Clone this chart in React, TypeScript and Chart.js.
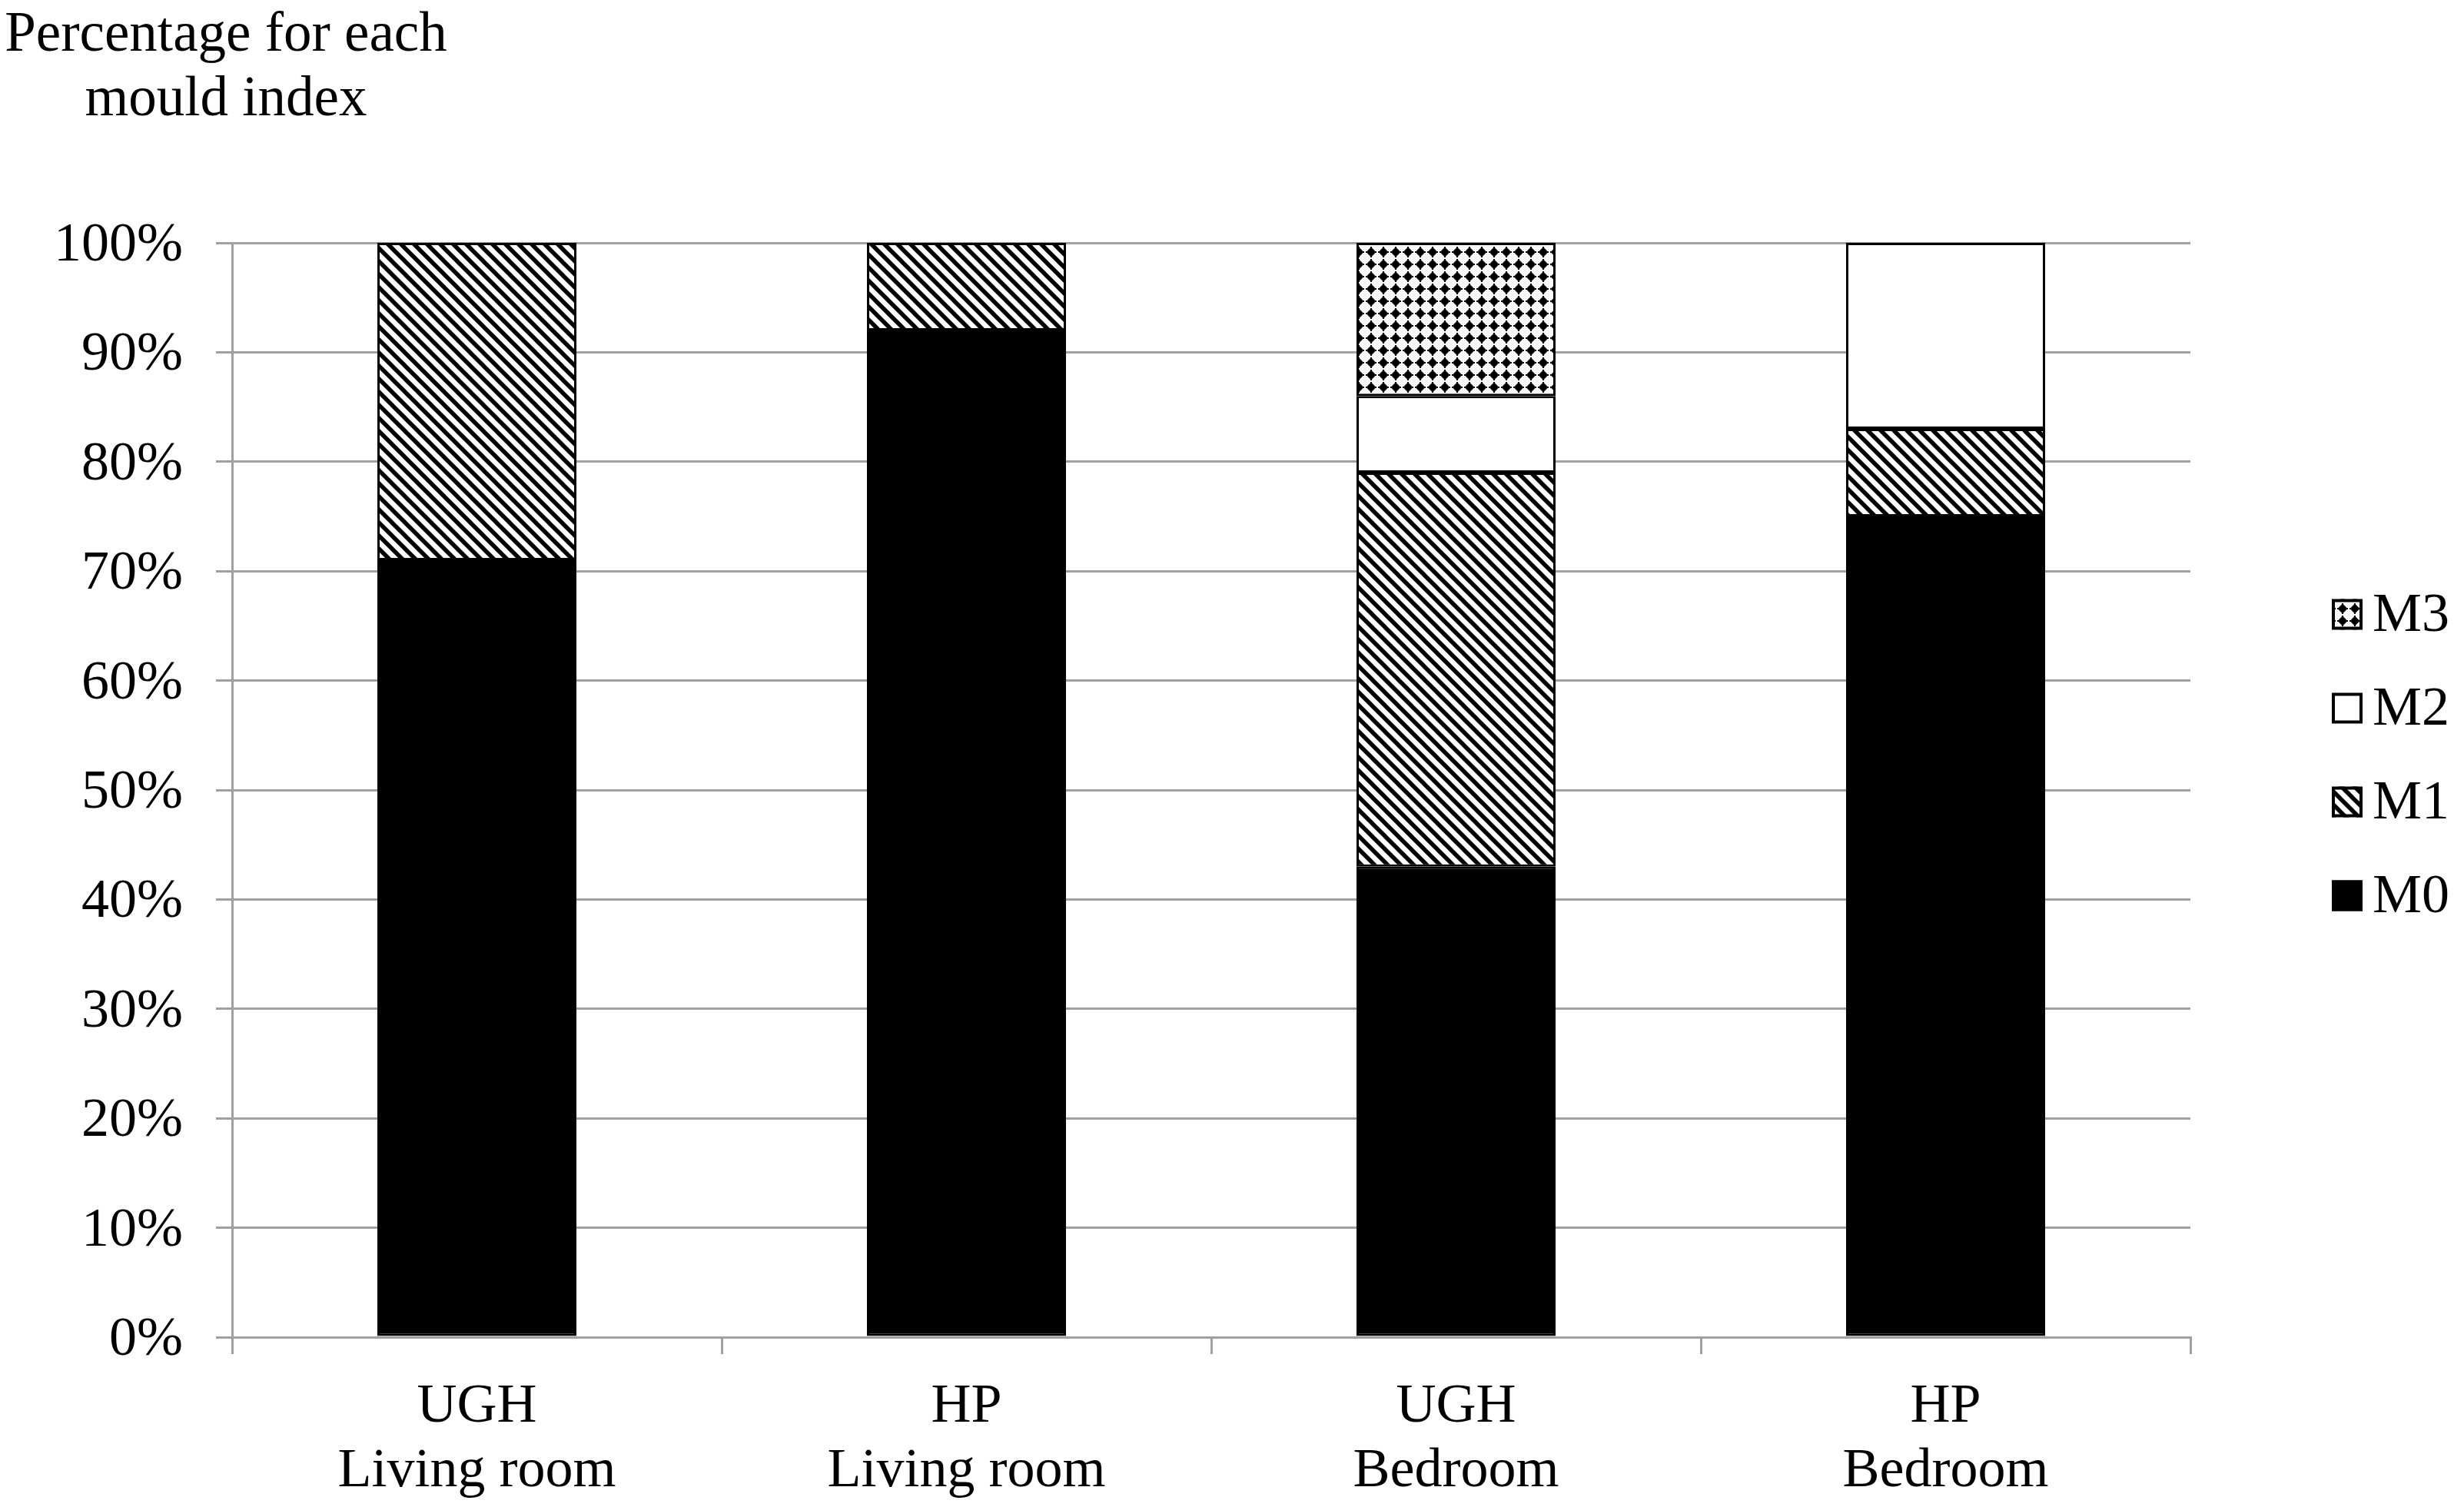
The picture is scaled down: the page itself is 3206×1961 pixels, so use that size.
import React, { useEffect, useRef } from "react";
import { Chart, registerables } from "chart.js";

Chart.register(...registerables);

const categories: string[][] = [
  ["UGH", "Living room"],
  ["HP", "Living room"],
  ["UGH", "Bedroom"],
  ["HP", "Bedroom"],
];
const seriesNames = ["M0", "M1", "M2", "M3"];
const m0Values = [71, 92, 43, 75];
const m1Values = [29, 8, 36, 8];
const m2Values = [0, 0, 7, 17];
const m3Values = [0, 0, 14, 0];
const yTickValues = [0, 10, 20, 30, 40, 50, 60, 70, 80, 90, 100];
const titleLines = ["Percentage for each", "mould index"];

const FONT = '"Liberation Serif", "Times New Roman", serif';
const GRID = "#a0a0a0";

function makeHatch(): CanvasPattern | string {
  const t = document.createElement("canvas");
  const s = 17;
  t.width = s;
  t.height = s;
  const c = t.getContext("2d");
  if (!c) return "#888";
  c.fillStyle = "#fff";
  c.fillRect(0, 0, s, s);
  c.strokeStyle = "#000";
  c.lineWidth = 5.5;
  c.beginPath();
  for (const k of [-s, 0, s]) {
    c.moveTo(k - 2, -2);
    c.lineTo(k + s + 2, s + 2);
  }
  c.stroke();
  const main = document.createElement("canvas").getContext("2d");
  return (main as CanvasRenderingContext2D).createPattern(t, "repeat") as CanvasPattern;
}

function makeDiamonds(): CanvasPattern | string {
  const t = document.createElement("canvas");
  const s = 16;
  t.width = s;
  t.height = s;
  const c = t.getContext("2d");
  if (!c) return "#888";
  c.fillStyle = "#fff";
  c.fillRect(0, 0, s, s);
  c.fillStyle = "#000";
  const cx = s / 2;
  const cy = s / 2;
  const r = 6.5;
  c.beginPath();
  c.moveTo(cx, cy - r);
  c.lineTo(cx + r, cy);
  c.lineTo(cx, cy + r);
  c.lineTo(cx - r, cy);
  c.closePath();
  c.fill();
  c.fillRect(cx - 1, cy - 7, 2, 14);
  c.fillRect(cx - 7, cy - 1, 14, 2);
  const main = document.createElement("canvas").getContext("2d");
  return (main as CanvasRenderingContext2D).createPattern(t, "repeat") as CanvasPattern;
}

const titlePlugin = {
  id: "sideTitle",
  afterDraw(chart: any) {
    const { ctx, chartArea } = chart;
    ctx.save();
    ctx.font = `73px ${FONT}`;
    ctx.fillStyle = "#000";
    ctx.textAlign = "center";
    ctx.textBaseline = "alphabetic";
    const cx = chartArea.left - 8;
    titleLines.forEach((line, i) => {
      ctx.fillText(line, cx, 66 + i * 84);
    });
    ctx.restore();
  },
};

const legendPlugin = {
  id: "sideLegend",
  afterDraw(chart: any) {
    const { ctx, chartArea } = chart;
    const ds = chart.data.datasets.slice().reverse();
    const n = ds.length;
    const rowGap = 122;
    const box = 40;
    const boxX = chartArea.right + 184;
    const midY = chart.height / 2 + 2;
    ctx.save();
    ctx.font = `72px ${FONT}`;
    ctx.textAlign = "left";
    ctx.textBaseline = "middle";
    ds.forEach((d: any, i: number) => {
      const cy = midY - ((n - 1) / 2) * rowGap + i * rowGap;
      ctx.fillStyle = d.backgroundColor;
      ctx.fillRect(boxX, cy - box / 2, box, box);
      ctx.lineWidth = 4;
      ctx.strokeStyle = "#000";
      ctx.strokeRect(boxX + 2, cy - box / 2 + 2, box - 4, box - 4);
      ctx.fillStyle = "#000";
      ctx.fillText(d.label, boxX + 53, cy + 3);
    });
    ctx.restore();
  },
};

export default function App() {
  const ref = useRef<HTMLCanvasElement | null>(null);

  useEffect(() => {
    const canvas = ref.current;
    if (!canvas) return;
    Chart.defaults.font.family = FONT;
    const hatch = makeHatch();
    const diamonds = makeDiamonds();
    const fills = ["#000000", hatch, "#ffffff", diamonds];
    const values = [m0Values, m1Values, m2Values, m3Values];

    const chart = new Chart(canvas, {
      type: "bar",
      data: {
        labels: categories,
        datasets: seriesNames.map((name, i) => ({
          label: name,
          data: values[i],
          backgroundColor: fills[i] as any,
          borderColor: "#000000",
          borderWidth: 3,
          borderSkipped: false,
          barPercentage: 1,
          categoryPercentage: 0.4066,
        })),
      },
      options: {
        animation: false,
        responsive: false,
        devicePixelRatio: 1,
        layout: { padding: { top: 316, right: 356, bottom: 0, left: 0 } },
        plugins: {
          legend: { display: false },
          title: { display: false },
          tooltip: { enabled: false },
        },
        scales: {
          x: {
            stacked: true,
            afterFit: (scale: any) => {
              scale.height = 221;
            },
            grid: {
              offset: true,
              drawOnChartArea: false,
              drawTicks: true,
              tickLength: 22,
              color: GRID,
              lineWidth: 3,
            },
            border: { display: true, color: GRID, width: 3 },
            ticks: {
              color: "#000",
              padding: 27,
              font: { size: 72, family: FONT, lineHeight: 1.17 },
              maxRotation: 0,
              autoSkip: false,
            },
          },
          y: {
            stacked: true,
            min: 0,
            max: 100,
            afterFit: (scale: any) => {
              scale.width = 302;
            },
            afterBuildTicks: (scale: any) => {
              scale.ticks = yTickValues.map((v) => ({ value: v }));
            },
            grid: {
              drawTicks: true,
              tickLength: 21,
              color: GRID,
              lineWidth: 3,
            },
            border: { display: true, color: GRID, width: 3 },
            ticks: {
              color: "#000",
              padding: 43,
              labelOffset: 4,
              font: { size: 72, family: FONT },
              callback: (v: any) => `${v}%`,
            },
          },
        },
      },
      plugins: [titlePlugin, legendPlugin],
    });

    return () => {
      chart.destroy();
    };
  }, []);

  return (
    <div
      style={{
        position: "fixed",
        left: 0,
        top: 0,
        width: 3206,
        height: 1961,
        background: "#fff",
      }}
    >
      <canvas ref={ref} width={3206} height={1961} style={{ width: 3206, height: 1961, display: "block" }} />
    </div>
  );
}
